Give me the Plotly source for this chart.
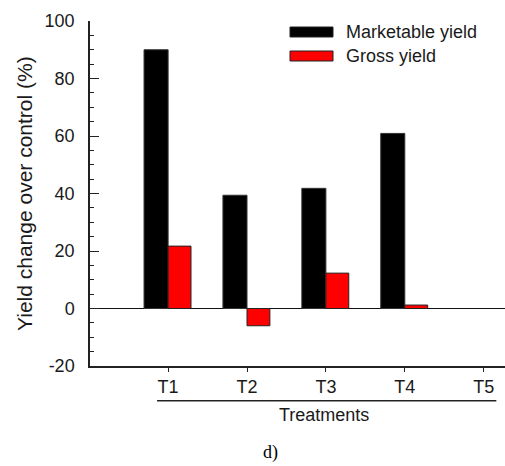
import plotly.graph_objects as go

categories = ["T1", "T2", "T3", "T4", "T5"]
cat_pos = [1, 2, 3, 4, 5]
marketable = [90.0, 39.4, 41.8, 60.9, None]
gross = [21.7, -6.0, 12.3, 1.2, None]
series_names = ["Marketable yield", "Gross yield"]
series_colors = ["#000000", "#ff0000"]
y_tickvals = [-20, 0, 20, 40, 60, 80, 100]
y_ticktext = ["-20", "0", "20", "40", "60", "80", "100"]

FONT = "Liberation Sans, Arial, sans-serif"
TXT = "#1a1a1a"

fig = go.Figure()
fig.add_trace(go.Bar(x=cat_pos, y=marketable, name=series_names[0], width=0.305, offset=-0.305,
                     marker=dict(color=series_colors[0], line=dict(color="#333333", width=1)),
                     showlegend=False))
fig.add_trace(go.Bar(x=cat_pos, y=gross, name=series_names[1], width=0.29, offset=0.0,
                     marker=dict(color=series_colors[1], line=dict(color="#222222", width=1)),
                     showlegend=False))

fig.update_layout(
    width=505, height=466,
    margin=dict(l=90, r=0, t=21, b=100),
    paper_bgcolor="white", plot_bgcolor="white",
    barmode="overlay",
    font=dict(family=FONT, size=18, color=TXT),
    xaxis=dict(range=[0.01, 5.27], tickvals=cat_pos, ticktext=categories,
               showline=True, linecolor="#222222", linewidth=1.5,
               ticks="outside", ticklen=4, tickcolor="#222222", showgrid=False, zeroline=False,
               tickfont=dict(size=18, color=TXT)),
    yaxis=dict(range=[-20, 100], tickvals=y_tickvals, ticktext=y_ticktext,
               showline=True, linecolor="#222222", linewidth=1.5,
               ticks="inside", ticklen=9, tickcolor="#222222", showgrid=False,
               ticklabelstandoff=10,
               zeroline=True, zerolinecolor="#111111", zerolinewidth=1.2,
               tickfont=dict(size=18, color=TXT),
               minor=dict(tickvals=[v for v in range(-15, 100, 5) if v % 20 != 0],
                          ticks="inside", ticklen=4, tickcolor="#222222", showgrid=False)),
)

# underline below the treatment labels
fig.add_shape(type="line", xref="x", yref="paper", x0=0.86, x1=5.16, y0=-0.101, y1=-0.101,
              line=dict(color="#222222", width=1.5))
fig.add_annotation(text="Treatments", xref="paper", yref="paper", x=(324 - 90) / 415, y=-(415 - 366) / 345,
                   showarrow=False, font=dict(size=18, color=TXT), xanchor="center", yanchor="middle")
fig.add_annotation(text="d)", xref="paper", yref="paper", x=(270 - 90) / 415, y=-(453 - 366) / 345,
                   showarrow=False, font=dict(size=18, color="#000000", family="Liberation Serif, Times New Roman, serif"),
                   xanchor="center", yanchor="middle")
fig.add_annotation(text="Yield change over control (%)", xref="paper", yref="paper",
                   x=(25 - 90) / 415, y=(366 - 194) / 345, textangle=-90,
                   showarrow=False, font=dict(size=21, color=TXT), xanchor="center", yanchor="middle")

# legend swatches
leg_y = [32, 56]
for i, name in enumerate(series_names):
    yc = (366 - leg_y[i]) / 345
    fig.add_shape(type="rect", xref="paper", yref="paper",
                  x0=(290 - 90) / 415, x1=(333 - 90) / 415,
                  y0=yc - 5 / 345, y1=yc + 5 / 345,
                  fillcolor=series_colors[i], line=dict(color="#222222", width=1))
    fig.add_annotation(text=name, xref="paper", yref="paper", x=(344 - 90) / 415, y=yc,
                       showarrow=False, xanchor="left", yanchor="middle", font=dict(size=18, color=TXT))

fig.write_html("out.html", config={"displayModeBar": False},
               post_script="document.body.style.margin='0';document.body.style.padding='0';document.body.style.overflow='hidden';")
